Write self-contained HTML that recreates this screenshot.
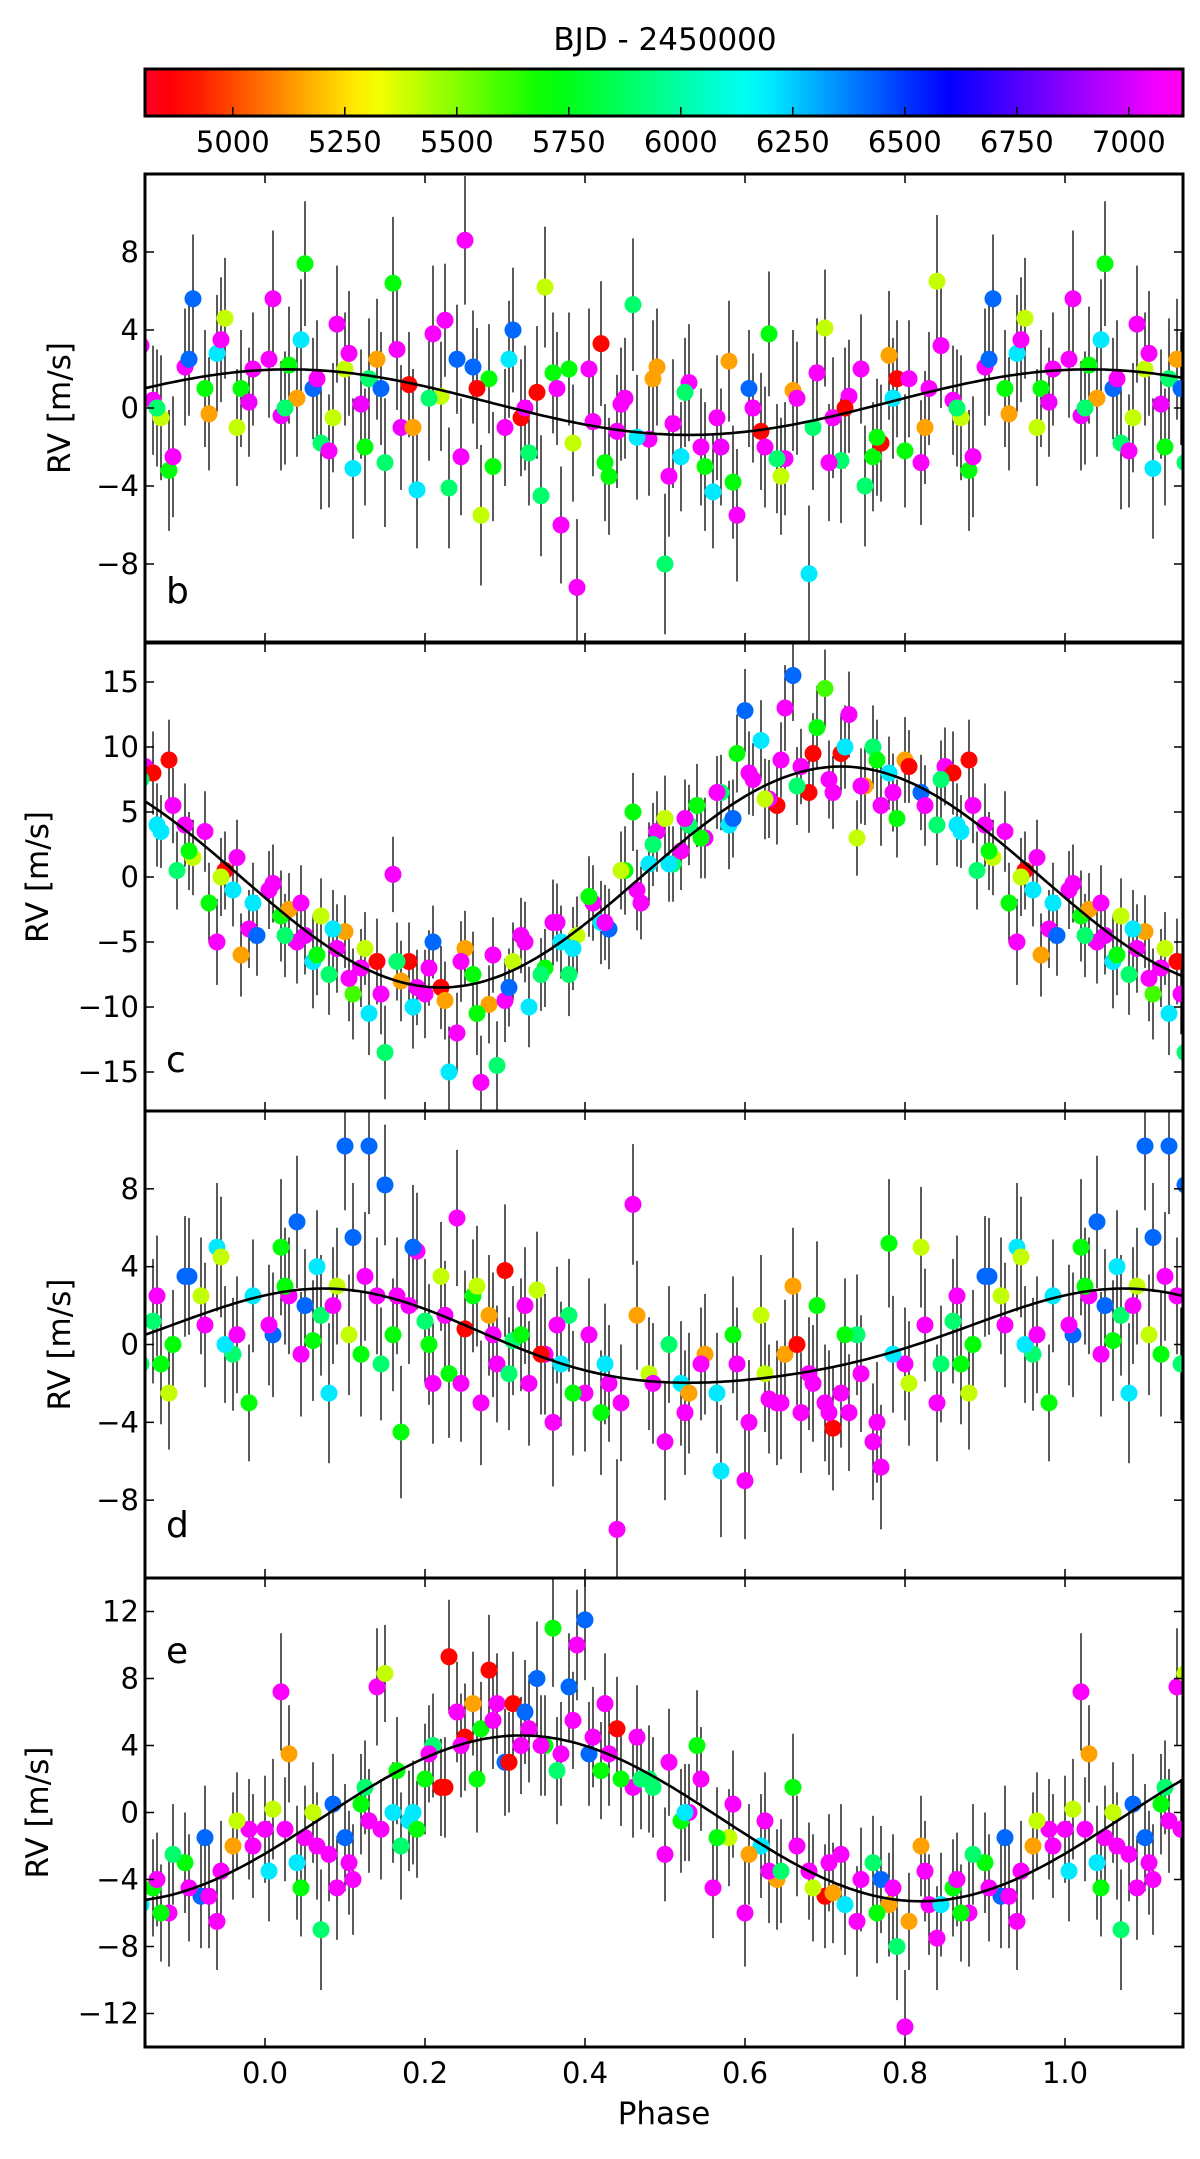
<!DOCTYPE html>
<html><head><meta charset="utf-8"><style>
html,body{margin:0;padding:0;background:#fff;}
svg{display:block;font-family:"DejaVu Sans","Liberation Sans",sans-serif;}
</style></head><body>
<svg id="fig" width="1200" height="2159" viewBox="0 0 1200 2159" xmlns="http://www.w3.org/2000/svg"></svg>
<script>
// ---- colour bar ----
const cbTicks = [5000,5250,5500,5750,6000,6250,6500,6750,7000];
const cbMin = 4804, cbMax = 7121;
const xTicks = [0.0,0.2,0.4,0.6,0.8,1.0];
const xTickLabels = ["0.0","0.2","0.4","0.6","0.8","1.0"];

// ---- panel b ----
const phaseB=[0.01,0.02,0.03,0.05,0.06,0.07,0.09,0.10,0.11,0.12,0.14,0.15,0.16,0.18,0.19,0.21,0.22,0.23,0.25,0.26,0.27,0.28,0.30,0.31,0.33,0.34,0.35,0.37,0.38,0.39,0.41,0.42,0.43,0.45,0.46,0.48,0.49,0.50,0.52,0.53,0.55,0.56,0.58,0.59,0.61,0.62,0.63,0.65,0.66,0.68,0.69,0.70,0.72,0.73,0.75,0.76,0.78,0.79,0.80,0.82,0.84,0.86,0.88,0.90,0.91,0.93,0.95,0.97,0.98,0.04,0.08,0.13,0.17,0.24,0.32,0.36,0.44,0.51,0.57,0.64,0.71,0.77,0.83,0.87,0.94];
const rvB=[5.6,-0.4,2.2,7.4,1.0,-1.8,4.3,2.0,-3.1,0.2,2.5,-2.8,6.4,1.2,-4.2,3.8,0.6,-4.1,8.6,2.1,-5.5,1.5,-1.0,4.0,-2.3,0.8,6.2,-6.0,2.0,-9.2,-0.7,3.3,-3.5,0.5,5.3,-1.6,2.1,-8.0,-2.5,1.3,-3.0,-4.3,2.4,-5.5,0.0,-1.2,3.8,-2.6,0.9,-8.5,1.8,4.1,-2.7,0.6,-4.0,-2.5,2.7,1.5,-2.2,-2.8,6.5,0.4,-3.2,2.1,5.6,-0.3,4.6,1.0,0.3,0.5,-2.2,1.5,-1.0,2.5,-0.5,1.8,-1.2,-0.8,-2.0,-2.6,-0.5,-1.8,1.0,-0.5,2.8];
const errB=[3.5,2.8,3.0,3.2,2.6,3.4,3.0,2.9,3.6,2.8,3.1,3.3,3.4,2.7,3.0,3.5,2.8,3.1,3.3,2.9,3.6,2.8,3.0,3.2,2.7,3.4,3.1,3.0,2.9,3.5,2.8,3.2,3.0,3.1,3.4,2.9,3.0,3.6,2.8,3.0,3.3,2.9,3.1,3.4,2.8,3.0,3.2,2.9,3.1,3.5,2.8,3.0,3.2,2.9,3.1,2.8,3.3,3.0,2.9,3.2,3.4,2.8,3.1,3.0,3.3,2.9,3.1,3.0,2.8,3.0,2.9,3.1,3.2,2.8,3.0,3.1,2.9,3.3,3.0,2.8,3.1,3.0,2.9,3.2,3.0];
const timeB=[7080,7060,5720,5720,6420,5900,7080,5400,6200,7060,5150,5900,5720,4880,6200,7080,5400,5900,7080,6420,5400,5720,7080,6420,5900,4880,5400,7080,5720,7080,7080,4880,5720,7080,5900,7080,5150,5900,6200,7080,5720,6200,5150,7080,7080,4880,5720,7080,5150,6200,7080,5400,5900,7080,5900,5720,5150,4880,5720,7080,5400,7080,5720,7080,6420,5150,5400,5720,7060,5150,7080,5900,7060,6420,4880,5720,7080,7080,7060,5900,7080,4880,7080,5400,6200];
const phaseBx=[0.005,0.025,0.045,0.065,0.085,0.105,0.125,0.145,0.165,0.185,0.205,0.225,0.245,0.265,0.285,0.305,0.325,0.345,0.365,0.385,0.405,0.425,0.445,0.465,0.485,0.505,0.525,0.545,0.565,0.585,0.605,0.625,0.645,0.665,0.685,0.705,0.725,0.745,0.765,0.785,0.805,0.825,0.845,0.865,0.885,0.905,0.925,0.945,0.965,0.985];
const rvBx=[2.5,0.0,3.5,1.5,-0.5,2.8,-2.0,1.0,3.0,-1.0,0.5,4.5,-2.5,1.0,-3.0,2.5,0.0,-4.5,1.0,-1.8,2.0,-2.8,0.2,-1.5,1.5,-3.5,0.8,-2.0,-0.5,-3.8,1.0,-2.0,-3.5,0.5,-1.0,-2.8,0.0,2.0,-1.5,0.5,1.5,-1.0,3.2,0.0,-2.5,2.5,1.0,3.5,-1.0,2.0];
const errBx=[3.0,2.9,3.1,3.0,2.8,3.2,3.0,2.9,3.1,3.0,3.2,2.9,3.0,3.1,2.8,3.0,3.2,3.1,2.9,3.0,3.1,3.0,2.9,3.2,3.0,3.1,2.8,3.0,3.2,2.9,3.0,3.1,3.0,2.9,3.2,3.0,3.1,2.8,3.0,3.1,3.0,2.9,3.2,3.0,3.1,2.9,3.0,3.2,3.0,2.9];
const timeBx=[7080,5900,6200,7080,5400,7080,5720,6420,7080,5150,5900,7080,7080,4880,5720,6200,7080,5900,7080,5400,7080,5720,7080,6200,5150,7080,5900,7080,7080,5720,6420,7080,5400,7080,5900,7080,4880,7080,5720,6200,7080,5150,7080,5900,7080,6420,5720,7080,5400,7080];
const curveB=[0.3,1.68,0.03,0.0,0.0]; // offset, K, phase of max, K2, phase2

// ---- panel c ----
const phaseC=[0.01,0.02,0.03,0.04,0.05,0.06,0.07,0.08,0.09,0.10,0.11,0.12,0.13,0.14,0.15,0.16,0.17,0.18,0.20,0.21,0.22,0.23,0.24,0.25,0.26,0.27,0.28,0.29,0.30,0.32,0.33,0.35,0.36,0.37,0.38,0.39,0.41,0.43,0.45,0.46,0.47,0.48,0.49,0.50,0.51,0.52,0.54,0.55,0.57,0.58,0.59,0.60,0.61,0.62,0.64,0.65,0.66,0.67,0.68,0.69,0.70,0.71,0.72,0.73,0.74,0.75,0.76,0.77,0.78,0.79,0.80,0.82,0.84,0.85,0.86,0.87,0.88,0.89,0.90,0.91,0.93,0.94,0.95,0.96,0.97,0.98,0.99,0.19,0.31,0.42,0.53,0.63];
const rvC=[-0.5,-3.0,-2.5,-5.0,-4.5,-6.5,-3.0,-7.5,-5.5,-4.2,-9.0,-7.0,-10.5,-6.5,-13.5,0.2,-8.0,-6.5,-9.0,-5.0,-8.5,-15.0,-12.0,-5.5,-7.5,-15.8,-9.8,-14.5,-9.5,-4.5,-10.0,-7.0,-3.5,-5.0,-7.5,-4.5,-2.0,-4.0,0.5,5.0,-2.0,1.0,3.5,4.5,1.0,2.0,5.5,3.0,6.5,4.0,9.5,12.8,7.5,10.5,5.5,13.0,15.5,8.5,6.5,11.5,14.5,6.5,9.5,12.5,3.0,7.0,10.0,5.5,8.0,4.5,9.0,6.5,4.0,8.5,8.0,3.5,9.0,0.5,4.0,1.5,-2.0,-5.0,0.5,-1.0,-6.0,-4.0,-4.5,-8.5,-6.5,-3.5,4.0,6.0];
const errC=[3.0,3.5,2.8,3.2,3.0,3.6,2.9,3.1,3.4,2.8,3.5,3.0,3.2,3.3,3.6,2.9,3.1,3.0,3.4,2.8,3.2,3.5,3.1,2.9,3.3,3.6,3.0,3.4,3.2,2.9,3.1,3.0,3.3,2.8,3.2,3.0,2.9,3.1,3.4,3.0,2.8,3.2,3.1,3.3,2.9,3.0,3.2,3.1,2.9,3.4,3.0,3.2,2.8,3.1,3.0,3.3,3.5,2.9,3.1,3.2,3.0,2.8,3.1,3.3,2.9,3.0,3.2,3.1,2.8,3.0,3.3,2.9,3.1,3.0,3.2,2.8,3.1,3.0,3.2,2.9,3.1,3.3,3.0,2.8,3.2,3.0,3.1,2.9,3.0,3.2,3.1,3.0];
const timeC=[7080,5720,5150,7080,7060,6200,5400,5900,7080,5150,5600,7080,6200,4880,5900,7080,5150,4880,7080,6420,4880,6200,7080,5150,5720,7080,5150,5900,7080,7080,6200,5720,7080,6200,5900,5400,7080,6420,5720,5720,7080,6200,7080,5400,5900,7080,5720,7080,5900,6200,5720,6420,7080,6200,4880,7080,6420,7080,4880,5720,5600,7080,4880,7080,5400,5150,5900,7080,6200,5720,5150,6420,5900,7080,4880,6200,4880,5900,7080,5400,5720,7080,4880,6200,5150,7080,6420,7080,5400,6200,5900,7060];
const phaseCx=[0.005,0.025,0.045,0.065,0.085,0.105,0.125,0.145,0.165,0.185,0.205,0.225,0.245,0.265,0.285,0.305,0.325,0.345,0.365,0.385,0.405,0.425,0.445,0.465,0.485,0.505,0.525,0.545,0.565,0.585,0.605,0.625,0.645,0.665,0.685,0.705,0.725,0.745,0.765,0.785,0.805,0.825,0.845,0.865,0.885,0.905,0.925,0.945,0.965,0.985];
const rvCx=[-1.0,-4.5,-2.0,-6.0,-4.0,-7.8,-5.5,-9.0,-6.5,-10.0,-7.0,-9.5,-6.5,-10.5,-6.0,-8.5,-5.0,-7.5,-3.5,-5.5,-1.5,-3.5,0.5,-1.0,2.5,1.0,4.5,3.0,6.5,4.5,8.0,6.0,9.0,7.0,9.5,7.5,10.0,7.0,9.0,6.5,8.5,5.5,7.5,4.0,5.5,2.0,3.5,0.0,1.5,-2.0];
const errCx=[3.0,3.2,2.9,3.1,3.0,3.3,2.8,3.1,3.0,3.2,2.9,3.0,3.1,3.2,2.9,3.0,3.1,2.8,3.0,3.2,3.1,2.9,3.0,3.1,3.2,2.9,3.0,3.1,2.8,3.0,3.2,3.1,2.9,3.0,3.1,3.0,3.2,2.9,3.1,3.0,2.8,3.1,3.0,3.2,2.9,3.0,3.1,3.0,2.9,3.1];
const timeCx=[7080,5900,7080,5720,6200,7080,5400,7080,5900,6200,7080,5150,7080,5720,7080,6420,7080,5900,7080,6200,5720,7080,5400,7080,5900,6200,7080,5720,7080,6420,7080,5400,7080,5900,4880,7080,6200,7080,5720,7080,4880,7080,5900,6200,7080,5720,7080,5400,7080,6200];
const curveC=[0.0,8.5,0.72,0.0,0.0];

// ---- panel d ----
const phaseD=[0.01,0.02,0.03,0.04,0.05,0.06,0.08,0.09,0.10,0.11,0.12,0.13,0.14,0.15,0.16,0.17,0.19,0.20,0.21,0.22,0.23,0.24,0.25,0.26,0.27,0.28,0.29,0.30,0.31,0.33,0.34,0.35,0.36,0.38,0.40,0.42,0.44,0.46,0.48,0.50,0.52,0.55,0.57,0.59,0.60,0.62,0.64,0.65,0.66,0.67,0.68,0.69,0.70,0.71,0.72,0.74,0.76,0.78,0.80,0.82,0.84,0.86,0.88,0.90,0.92,0.94,0.96,0.98,0.07,0.18,0.32,0.37,0.43,0.53,0.63,0.73,0.77,0.87,0.95];
const rvD=[0.5,5.0,2.5,6.3,2.0,0.2,-2.5,3.0,10.2,5.5,-0.5,10.2,2.5,8.2,0.5,-4.5,4.8,1.2,-2.0,3.5,-1.5,6.5,0.8,2.5,-3.0,1.5,-1.0,3.8,0.2,-2.0,2.8,-0.5,-4.0,1.5,-2.5,-3.5,-9.5,7.2,-1.5,-5.0,-2.0,-0.5,-6.5,-1.0,-7.0,1.5,-3.0,-0.5,3.0,-3.5,-1.5,2.0,-3.0,-4.3,-2.5,0.5,-5.0,5.2,-1.0,5.0,-3.0,1.2,-2.5,3.5,2.5,5.0,-0.5,-3.0,1.5,2.0,0.5,-1.0,-2.0,-2.5,-2.8,-3.5,-6.3,-1.0,0.0];
const errD=[3.2,3.5,3.0,3.4,2.9,3.1,3.6,3.0,3.3,2.8,3.2,3.5,3.0,3.1,2.9,3.4,3.0,3.2,3.1,2.8,3.3,3.5,3.0,2.9,3.2,3.1,3.0,3.4,2.8,3.2,3.0,3.1,3.3,2.9,3.0,3.2,3.6,3.1,2.9,3.0,3.2,3.1,3.4,2.9,3.0,3.1,3.2,2.8,3.0,3.1,2.9,3.3,3.0,3.2,2.8,3.1,3.0,3.3,2.9,3.1,3.0,3.2,2.9,3.1,3.0,3.3,2.9,3.0,3.1,3.0,2.9,3.2,3.0,3.1,2.8,3.0,3.2,3.1,3.0];
const timeD=[6420,5720,7080,6420,6420,5720,6200,5400,6420,6420,5720,6420,7080,6420,5720,5720,7080,5900,7080,5400,5720,7080,4880,5720,7080,5150,7080,4880,5900,7080,5400,7080,7080,5900,7080,5720,7080,7080,5400,7080,6200,5150,6200,7080,7080,5400,7080,5150,5150,7080,7080,5720,7080,4880,7080,5900,7080,5720,7080,5400,7080,5900,5400,6420,5400,6200,5900,5720,5900,7080,5720,6200,7080,5150,7080,7080,7080,5720,6200];
const phaseDx=[0.005,0.025,0.045,0.065,0.085,0.105,0.125,0.145,0.165,0.185,0.205,0.225,0.245,0.265,0.285,0.305,0.325,0.345,0.365,0.385,0.405,0.425,0.445,0.465,0.485,0.505,0.525,0.545,0.565,0.585,0.605,0.625,0.645,0.665,0.685,0.705,0.725,0.745,0.765,0.785,0.805,0.825,0.845,0.865,0.885,0.905,0.925,0.945,0.965,0.985];
const rvDx=[1.0,3.0,-0.5,4.0,2.0,0.5,3.5,-1.0,2.5,5.0,0.0,1.5,-2.0,3.0,0.5,-1.5,2.0,-0.5,1.0,-2.5,0.5,-1.0,-3.0,1.5,-2.0,0.0,-3.5,-1.0,-2.5,0.5,-4.0,-1.5,-3.0,0.0,-2.0,-3.5,0.5,-1.5,-4.0,-0.5,-2.0,1.0,-1.0,2.5,0.0,3.5,1.0,4.5,0.5,2.5];
const errDx=[3.1,3.0,3.2,2.9,3.0,3.1,3.3,2.9,3.0,3.2,3.1,2.8,3.0,3.1,3.2,2.9,3.0,3.1,3.0,3.2,2.9,3.1,3.0,2.8,3.1,3.0,3.2,2.9,3.1,3.0,3.2,3.0,2.9,3.1,3.0,3.2,2.9,3.0,3.1,3.0,3.2,2.9,3.0,3.1,2.8,3.0,3.2,3.1,3.0,2.9];
const timeDx=[7080,5720,7080,6200,7080,5400,7080,5900,7080,6420,5720,7080,7080,5400,7080,5900,7080,4880,7080,5720,7080,6200,7080,5150,7080,5900,7080,7080,6200,5720,7080,5400,7080,4880,7080,7080,5720,7080,7080,6200,5400,7080,5900,7080,5720,6420,7080,5400,7080,6200];
const curveD=[0.2,2.4,0.06,0.3,0.1];

// ---- panel e ----
const phaseE=[0.00,0.01,0.02,0.03,0.04,0.05,0.06,0.07,0.08,0.10,0.11,0.12,0.13,0.14,0.15,0.17,0.18,0.20,0.21,0.22,0.23,0.24,0.25,0.26,0.27,0.28,0.29,0.30,0.31,0.32,0.34,0.35,0.36,0.37,0.38,0.39,0.40,0.41,0.42,0.44,0.46,0.48,0.50,0.52,0.54,0.56,0.58,0.60,0.62,0.64,0.66,0.68,0.70,0.72,0.74,0.76,0.78,0.79,0.80,0.82,0.84,0.86,0.88,0.90,0.92,0.94,0.96,0.98,0.09,0.16,0.19,0.33,0.43,0.47,0.53,0.63,0.71,0.77,0.83,0.87,0.93];
const rvE=[-1.0,0.2,7.2,3.5,-3.0,-1.5,0.0,-7.0,-2.5,-1.5,-4.0,0.5,-0.5,7.5,8.3,-2.0,-0.5,2.0,4.0,1.5,9.3,6.0,4.5,6.5,5.0,8.5,6.5,3.0,6.5,4.0,8.0,4.0,11.0,3.5,7.5,10.0,11.5,4.5,2.5,5.0,1.5,2.0,-2.5,-0.5,4.0,-4.5,-1.5,-6.0,-2.0,-4.0,1.5,-3.5,-5.0,-2.5,-6.5,-3.0,-5.5,-8.0,-12.8,-2.0,-7.5,-4.5,-6.0,-3.0,-5.0,-6.5,-2.0,-1.0,-4.5,0.0,-1.0,5.0,3.5,2.0,0.0,-3.5,-4.8,-4.0,-5.5,-6.0,-5.0];
const errE=[3.2,3.0,3.5,2.9,3.4,3.1,3.0,3.6,2.8,3.2,3.3,3.0,3.1,3.5,2.9,3.2,3.0,3.3,3.1,2.9,3.4,3.0,3.2,3.1,2.8,3.3,3.0,3.2,3.1,2.9,3.4,3.0,3.5,3.1,3.2,3.3,3.6,3.0,2.9,3.1,3.0,3.2,2.8,3.1,3.3,3.0,2.9,3.2,3.1,3.0,3.2,2.9,3.1,3.0,3.3,2.8,3.1,3.2,3.4,3.0,3.1,2.9,3.2,3.0,3.1,2.9,3.2,3.0,3.1,3.0,2.9,3.2,3.1,3.0,2.9,3.1,3.0,3.2,3.0,2.9,3.1];
const timeE=[7080,5400,7080,5150,6200,7080,5400,5900,7080,6420,7080,5720,7080,7080,5400,5900,6200,5720,5900,4880,4880,7080,4880,5150,5720,4880,7080,6420,4880,7080,6420,5720,5720,7080,6420,7080,6420,7080,5720,4880,7080,5900,7080,5720,5720,7080,5400,7080,6200,5150,5720,7080,4880,7080,7080,5900,5150,5900,7080,5150,7080,5720,7080,5720,6420,7080,5150,7080,7080,6200,5720,7080,7080,5900,7080,7080,5150,6420,7080,5720,7080];
const phaseEx=[0.005,0.025,0.045,0.065,0.085,0.105,0.125,0.145,0.165,0.185,0.205,0.225,0.245,0.265,0.285,0.305,0.325,0.345,0.365,0.385,0.405,0.425,0.445,0.465,0.485,0.505,0.525,0.545,0.565,0.585,0.605,0.625,0.645,0.665,0.685,0.705,0.725,0.745,0.765,0.785,0.805,0.825,0.845,0.865,0.885,0.905,0.925,0.945,0.965,0.985];
const rvEx=[-3.5,-1.0,-4.5,-2.0,0.5,-3.0,1.5,-1.0,2.5,0.0,3.5,1.5,4.0,2.0,5.5,3.0,6.0,4.0,2.5,5.5,3.5,6.5,2.0,4.5,1.5,3.0,0.0,2.0,-1.5,0.5,-2.5,-0.5,-3.5,-2.0,-4.5,-3.0,-5.5,-4.0,-6.0,-4.5,-6.5,-3.5,-5.5,-4.0,-2.5,-4.5,-1.5,-3.5,-0.5,-2.0];
const errEx=[3.0,3.1,2.9,3.2,3.0,3.1,2.8,3.0,3.2,3.1,2.9,3.0,3.1,3.2,2.9,3.0,3.1,3.0,3.2,2.9,3.1,3.0,2.8,3.1,3.0,3.2,2.9,3.1,3.0,3.2,3.0,2.9,3.1,3.0,3.2,2.9,3.0,3.1,3.0,3.2,2.9,3.0,3.1,2.8,3.0,3.2,3.1,3.0,2.9,3.1];
const timeEx=[6200,7080,5720,7080,6420,7080,5900,7080,5720,6200,7080,4880,7080,5720,7080,4880,6420,7080,5900,7080,6420,7080,5720,7080,5900,7080,6200,7080,5720,7080,5150,7080,5900,7080,5400,7080,6200,7080,5720,7080,5150,7080,6200,7080,5900,7080,6420,7080,5400,7080];
const curveE=[-0.35,4.95,0.32,0.0,0.0];

const NS="http://www.w3.org/2000/svg";
const svg=document.getElementById('fig');
function mk(tag,attrs,parent){const e=document.createElementNS(NS,tag);for(const k in attrs)e.setAttribute(k,attrs[k]);(parent||svg).appendChild(e);return e;}

const X0=145,X1=1183;
function xScale(p){return 265+800*p;}
function hueOf(t){
  const f=(t-cbMin)/(cbMax-cbMin);
  const fs=[0.031,0.217,0.388,0.587,0.772,0.985], hs=[0,60,120,180,240,300];
  let h;
  if(f<=fs[0]) h=hs[0]+(f-fs[0])*(60/(fs[1]-fs[0]));
  else if(f>=fs[5]) h=300+(f-fs[5])*(60/(fs[5]-fs[4]));
  else{for(let i=0;i<5;i++){if(f>=fs[i]&&f<=fs[i+1]){h=hs[i]+(f-fs[i])/(fs[i+1]-fs[i])*60;break;}}}
  if(h<0)h+=360;
  return 'hsl('+h.toFixed(1)+',100%,50%)';
}
function cbX(t){return X0+(t-cbMin)/(cbMax-cbMin)*(X1-X0);}

const defs=mk('defs',{});
const grad=mk('linearGradient',{id:'cbg',x1:'0',x2:'1',y1:'0',y2:'0'},defs);
for(let i=0;i<=40;i++){const t=cbMin+(cbMax-cbMin)*i/40;mk('stop',{offset:(i/40*100)+'%','stop-color':hueOf(t)},grad);}
const cbg=mk('g',{});


const cbt=mk('text',{x:665,y:50,'font-size':31,'text-anchor':'middle'},cbg);
cbt.textContent='BJD - 2450000';


mk('rect',{x:X0,y:69,width:X1-X0,height:47,fill:'url(#cbg)',stroke:'#000','stroke-width':3},cbg);
cbTicks.forEach(t=>{
  const x=cbX(t);
  mk('line',{x1:x,x2:x,y1:116,y2:107,stroke:'#000','stroke-width':1.5},cbg);
  const l=mk('text',{x:x,y:152,'font-size':29,'text-anchor':'middle'},cbg);
  l.textContent=String(t);
  
  
});

const panels=[
 {name:'b',top:174,bot:642,ymin:-12,ymax:12,ticks:[-8,-4,0,4,8],ph:phaseB.concat(phaseBx),rv:rvB.concat(rvBx),er:errB.concat(errBx),tm:timeB.concat(timeBx),cv:curveB,ly:603},
 {name:'c',top:643,bot:1111,ymin:-18,ymax:18,ticks:[-15,-10,-5,0,5,10,15],ph:phaseC.concat(phaseCx),rv:rvC.concat(rvCx),er:errC.concat(errCx),tm:timeC.concat(timeCx),cv:curveC,ly:1072},
 {name:'d',top:1111,bot:1578,ymin:-12,ymax:12,ticks:[-8,-4,0,4,8],ph:phaseD.concat(phaseDx),rv:rvD.concat(rvDx),er:errD.concat(errDx),tm:timeD.concat(timeDx),cv:curveD,ly:1537},
 {name:'e',top:1578,bot:2047,ymin:-14,ymax:14,ticks:[-12,-8,-4,0,4,8,12],ph:phaseE.concat(phaseEx),rv:rvE.concat(rvEx),er:errE.concat(errEx),tm:timeE.concat(timeEx),cv:curveE,ly:1663}
];

panels.forEach(P=>{
  const g=mk('g',{});
  
  
  const cid='clip'+P.name;
  const cp=mk('clipPath',{id:cid},defs);
  mk('rect',{x:X0,y:P.top,width:X1-X0,height:P.bot-P.top},cp);
  const yS=v=>P.bot-(v-P.ymin)/(P.ymax-P.ymin)*(P.bot-P.top);
  const inner=mk('g',{'clip-path':'url(#'+cid+')'},g);
  const n=Math.min(P.ph.length,P.rv.length,P.er.length,P.tm.length);
  const pts=[];
  for(let i=0;i<n;i++){
    const ps=[P.ph[i]];
    if(P.ph[i]<0.16) ps.push(P.ph[i]+1);
    if(P.ph[i]>0.84) ps.push(P.ph[i]-1);
    ps.forEach(p=>pts.push({p:p,v:P.rv[i],e:P.er[i],t:P.tm[i]}));
  }
  const eb=mk('g',{},inner);
  
  
  pts.forEach(o=>{
    const x=xScale(o.p);
    mk('line',{x1:x,x2:x,y1:yS(o.v-o.e),y2:yS(o.v+o.e),stroke:'#000','stroke-width':1.3},eb);
  });
  const mg=mk('g',{},inner);
  
  
  pts.forEach(o=>{
    const c=mk('circle',{cx:xScale(o.p),cy:yS(o.v),r:8.5,fill:hueOf(o.t)},mg);
    
    
  });
  let d='';
  for(let k=0;k<=260;k++){
    const p=-0.15+1.3*k/260;
    const c=P.cv;
    const v=c[0]+c[1]*Math.cos(2*Math.PI*(p-c[2]))+c[3]*Math.cos(4*Math.PI*(p-c[4]));
    d+=(k?'L':'M')+xScale(p).toFixed(1)+','+yS(v).toFixed(1);
  }
  const cur=mk('path',{d:d,fill:'none',stroke:'#000','stroke-width':2.6},inner);
  
  
  mk('rect',{x:X0,y:P.top,width:X1-X0,height:P.bot-P.top,fill:'none',stroke:'#000','stroke-width':3},g);
  P.ticks.forEach(v=>{
    const y=yS(v);
    mk('line',{x1:X0,x2:X0+9,y1:y,y2:y,stroke:'#000','stroke-width':1.5},g);
    mk('line',{x1:X1,x2:X1-9,y1:y,y2:y,stroke:'#000','stroke-width':1.5},g);
    const t=mk('text',{x:139,y:y+10,'font-size':29,'text-anchor':'end'},g);
    t.textContent=(v<0?'\u2212'+(-v):String(v));
    
    
  });
  xTicks.forEach(p=>{
    const x=xScale(p);
    mk('line',{x1:x,x2:x,y1:P.bot,y2:P.bot-9,stroke:'#000','stroke-width':1.5},g);
    mk('line',{x1:x,x2:x,y1:P.top,y2:P.top+9,stroke:'#000','stroke-width':1.5},g);
  });
  const yl=mk('text',{x:0,y:0,'font-size':31,'text-anchor':'middle',transform:'translate('+(P.name==='c'||P.name==='e'?48:70)+','+((P.top+P.bot)/2)+') rotate(-90)'},g);
  yl.textContent='RV [m/s]';
  
  
  const lt=mk('text',{x:166,y:P.ly,'font-size':36},g);
  lt.textContent=P.name;
  
  
});
xTicks.forEach((p,i)=>{
  const t=mk('text',{x:xScale(p),y:2083,'font-size':29,'text-anchor':'middle'});
  t.textContent=xTickLabels[i];
  
  
});
const xl=mk('text',{x:664,y:2124,'font-size':31,'text-anchor':'middle'});
xl.textContent='Phase';


</script>
</body></html>
